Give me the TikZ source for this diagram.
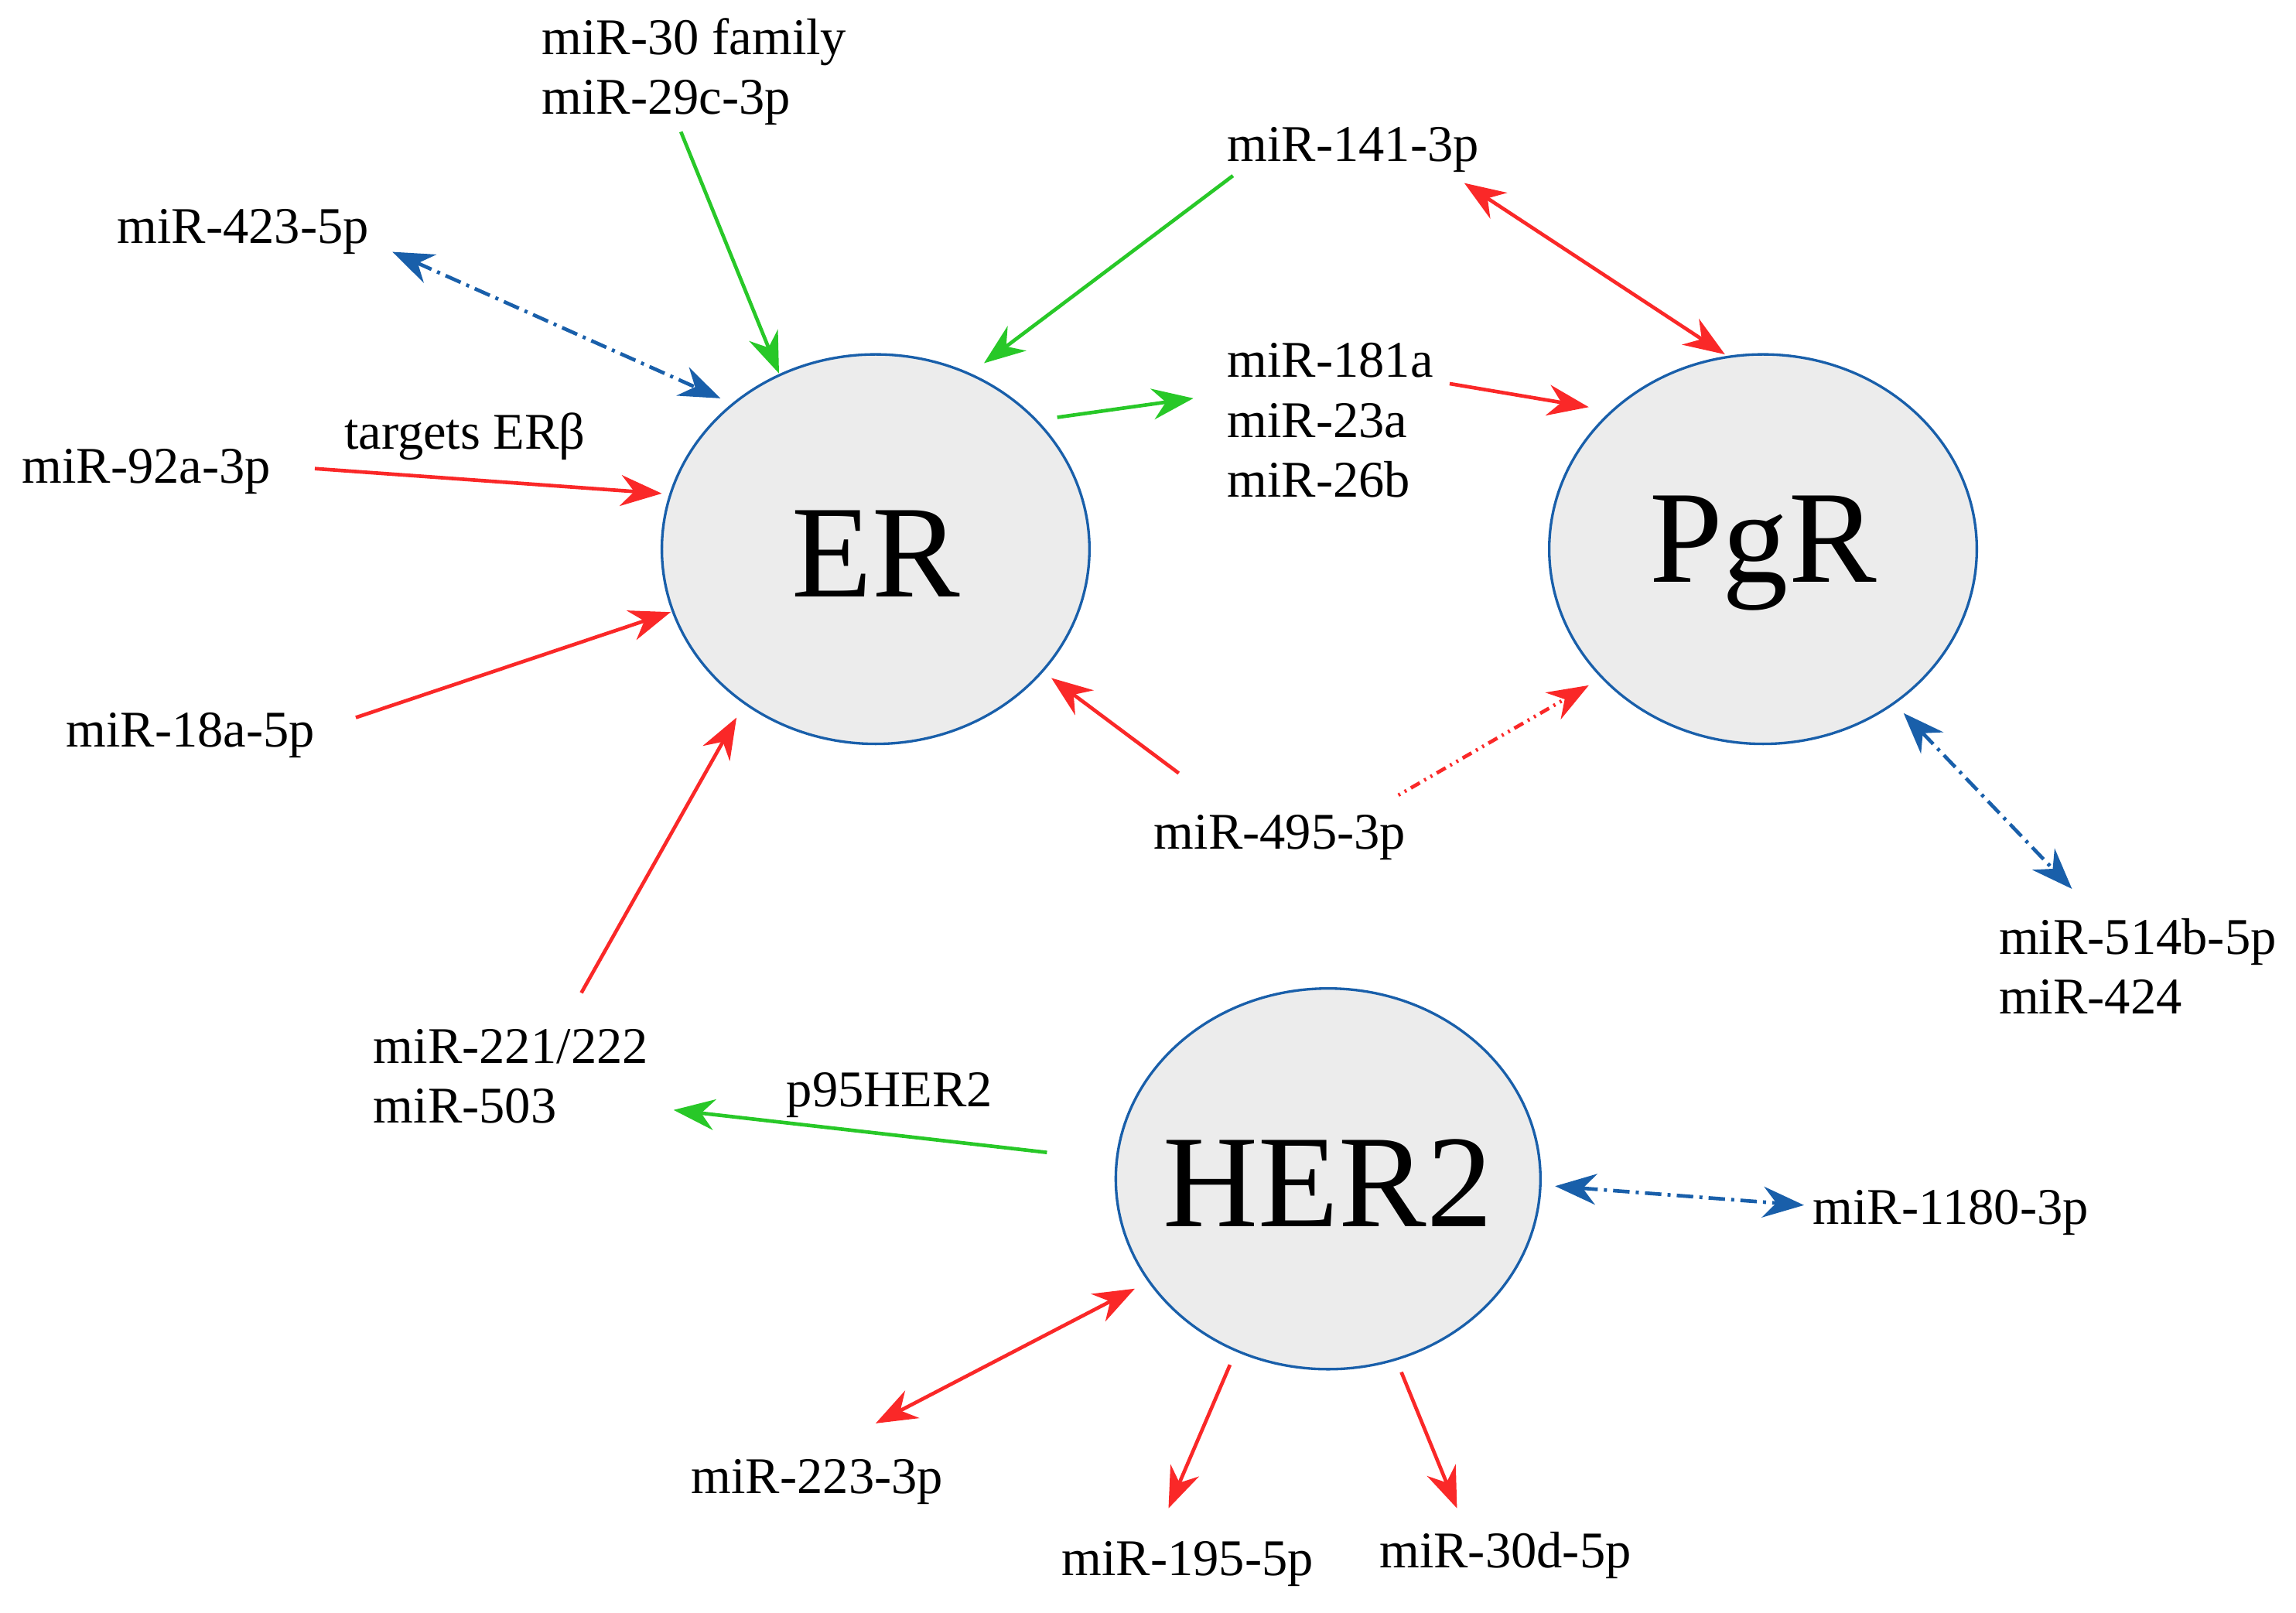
\documentclass[tikz,border=0pt]{standalone}
\usepackage{fontspec}
\setmainfont{Liberation Serif}
\usetikzlibrary{arrows.meta}
\definecolor{cred}{RGB}{250,40,40}
\definecolor{cgreen}{RGB}{40,200,40}
\definecolor{cblue}{RGB}{25,95,170}
\definecolor{cfill}{RGB}{236,236,236}
\begin{document}
\begin{tikzpicture}[x=0.05cm,y=-0.05cm,
 lab/.style={anchor=west,inner sep=0pt,align=left,font=\fontsize{50}{58}\selectfont},
 ar/.style={line width=3.5pt,-{Stealth[length=40pt,width=30pt]}},
 dar/.style={line width=3.5pt,{Stealth[length=40pt,width=30pt]}-{Stealth[length=40pt,width=30pt]}},
 r/.style={ar,cred}, g/.style={ar,cgreen},
 rr/.style={dar,cred},
 bb/.style={dar,cblue,dash pattern=on 16pt off 6pt on 3pt off 6pt},
 circ/.style={draw=cblue,line width=2.5pt,fill=cfill},
 bigt/.style={font=\fontsize{128}{128}\selectfont}]
\useasboundingbox (0,0) rectangle (1568,1101);
\draw[circ] (598,375) ellipse [x radius=146,y radius=133];
\draw[circ] (1204,375) ellipse [x radius=146,y radius=133];
\draw[circ] (907,805) ellipse [x radius=145,y radius=130];
\node[bigt] (ER) at (598,378) {ER};
\node[bigt] (PgR) at (1204,378) {PgR};
\node[bigt] (HER2) at (907,808) {HER2};
% labels
\node[lab] (m30) at (370,49) {miR-30 family\\miR-29c-3p};
\node[lab] (m141) at (838,102) {miR-141-3p};
\node[lab] (m423) at (80,158) {miR-423-5p};
\node[lab] (m181) at (838,287) {miR-181a\\miR-23a\\miR-26b};
\node[lab] (m92) at (15,322) {miR-92a-3p};
\node[lab] (tER) at (235,298) {targets ERβ};
\node[lab] (m18) at (45,502) {miR-18a-5p};
\node[lab] (m221) at (255,735) {miR-221/222\\miR-503};
\node[lab] (m495) at (788,572) {miR-495-3p};
\node[lab] (m514) at (1365,660) {miR-514b-5p\\miR-424};
\node[lab] (p95) at (537,748) {p95HER2};
\node[lab] (m1180) at (1238,828) {miR-1180-3p};
\node[lab] (m223) at (472,1012) {miR-223-3p};
\node[lab] (m195) at (725,1068) {miR-195-5p};
\node[lab] (m30d) at (942,1062) {miR-30d-5p};
% coordinates
\coordinate (a1) at (465,90); \coordinate (a2) at (532,255);
\coordinate (b1) at (842,120); \coordinate (b2) at (672,248);
\coordinate (c1) at (1000,125); \coordinate (c2) at (1178,242);
\coordinate (d1) at (268,172); \coordinate (d2) at (492,272);
\coordinate (e1) at (722,285); \coordinate (e2) at (815,272);
\coordinate (f1) at (990,262); \coordinate (f2) at (1085,278);
\coordinate (h1) at (215,320); \coordinate (h2) at (452,337);
\coordinate (i1) at (243,490); \coordinate (i2) at (458,418);
\coordinate (j1) at (397,678); \coordinate (j2) at (503,490);
\coordinate (k1) at (805,528); \coordinate (k2) at (718,463);
\coordinate (l1) at (955,543); \coordinate (l2) at (1085,468);
\coordinate (n1) at (1300,487); \coordinate (n2) at (1415,607);
\coordinate (o1) at (715,787); \coordinate (o2) at (460,758);
\coordinate (p1) at (1062,810); \coordinate (p2) at (1232,823);
\coordinate (q1) at (598,972); \coordinate (q2) at (775,880);
\coordinate (s1) at (840,932); \coordinate (s2) at (798,1030);
\coordinate (t1) at (957,937); \coordinate (t2) at (995,1030);
\draw[g] (a1) -- (a2);
\draw[g] (b1) -- (b2);
\draw[rr] (c1) -- (c2);
\draw[bb] (d1) -- (d2);
\draw[g] (e1) -- (e2);
\draw[r] (f1) -- (f2);
\draw[r] (h1) -- (h2);
\draw[r] (i1) -- (i2);
\draw[r] (j1) -- (j2);
\draw[r] (k1) -- (k2);
\draw[r,dash pattern=on 2pt off 5pt on 2pt off 5pt on 10pt off 5pt] (l1) -- (l2);
\draw[bb] (n1) -- (n2);
\draw[g] (o1) -- (o2);
\draw[bb] (p1) -- (p2);
\draw[rr] (q1) -- (q2);
\draw[r] (s1) -- (s2);
\draw[r] (t1) -- (t2);
\end{tikzpicture}
\end{document}
